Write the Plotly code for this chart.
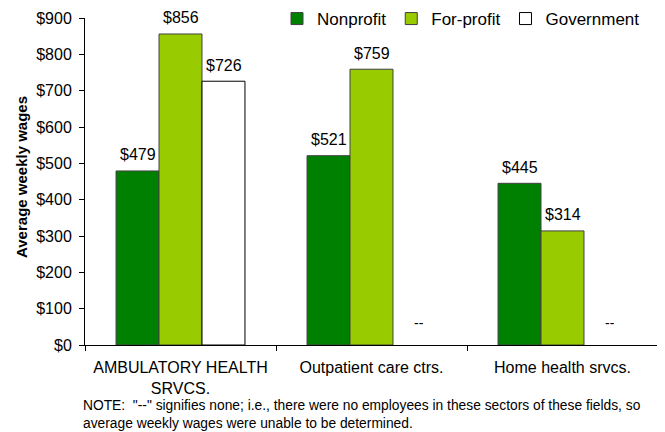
import plotly.graph_objects as go

categories = ["AMBULATORY HEALTH<br>SRVCS.", "Outpatient care ctrs.", "Home health srvcs."]
nonprofit = [479, 521, 445]
forprofit = [856, 759, 314]
government = [726, None, None]
y_ticks = [0, 100, 200, 300, 400, 500, 600, 700, 800, 900]
y_tick_labels = ["$" + str(v) for v in y_ticks]

FONT = "Liberation Sans, Arial, sans-serif"
OFF = 8  # page body margin
W, H = 665 - OFF, 432 - OFF


def px_x(x):
    return (x - OFF) / W


def px_y(y):
    return 1 - (y - OFF) / H


PX_L, PX_R, PX_T, PX_B = 85, 658, 18, 345

series = [
    ("Nonprofit", nonprofit, "#008000", "#404040", -43),
    ("For-profit", forprofit, "#99CC00", "#404040", 0),
    ("Government", government, "#FFFFFF", "#000000", 43),
]

fig = go.Figure()
for name, vals, color, lc, _ in series:
    fig.add_trace(go.Bar(name=name, x=categories, y=vals,
                         marker=dict(color=color, line=dict(color=lc, width=1))))

for name, vals, color, lc, dx in series:
    for i, v in enumerate(vals):
        if v is None:
            fig.add_annotation(x=categories[i], y=0, xref="x", yref="y", text="--",
                               showarrow=False, xshift=dx + 4, yshift=22,
                               font=dict(size=14, color="#000"))
        else:
            fig.add_annotation(x=categories[i], y=v, xref="x", yref="y", text="$" + str(v),
                               showarrow=False, xshift=dx, yshift=16, yanchor="middle",
                               font=dict(size=16, color="#000"))

fig.add_annotation(xref="paper", yref="paper", x=px_x(81), y=px_y(396), xanchor="left",
                   yanchor="top", align="left", showarrow=False,
                   text='NOTE:  "--" signifies none; i.e., there were no employees in these sectors of these fields, so<br>average weekly wages were unable to be determined.',
                   font=dict(size=13.8, color="#000"))

fig.add_annotation(xref="paper", yref="paper", x=px_x(21), y=px_y(177), textangle=-90,
                   xanchor="center", yanchor="middle",
                   showarrow=False, text="<b>Average weekly wages</b>",
                   font=dict(size=15, color="#000"))

fig.update_layout(
    width=W, height=H,
    margin=dict(l=0, r=0, t=0, b=0, autoexpand=False),
    paper_bgcolor="white", plot_bgcolor="white",
    font=dict(family=FONT, size=16, color="#000"),
    barmode="group", bargap=0.325, bargroupgap=0,
    showlegend=True,
    legend=dict(orientation="h", x=px_x(277), xanchor="left", y=px_y(19), yanchor="middle",
                font=dict(size=17), itemwidth=30, bgcolor="rgba(0,0,0,0)",
                traceorder="normal"),
    xaxis=dict(domain=[px_x(PX_L), px_x(PX_R)], showline=True, linecolor="#000", linewidth=1,
               ticks="outside", ticklen=5, tickcolor="#000", tickson="boundaries",
               tickfont=dict(size=16), automargin=False, ticklabelstandoff=8),
    yaxis=dict(domain=[px_y(PX_B), px_y(PX_T)], range=[0, 900], tickvals=y_ticks,
               ticktext=y_tick_labels, showline=True, linecolor="#000", linewidth=1,
               ticks="outside", ticklen=5, tickcolor="#000", showgrid=False, zeroline=False,
               tickfont=dict(size=16), automargin=False, ticklabelstandoff=4),
)

fig.write_html("out.html")
